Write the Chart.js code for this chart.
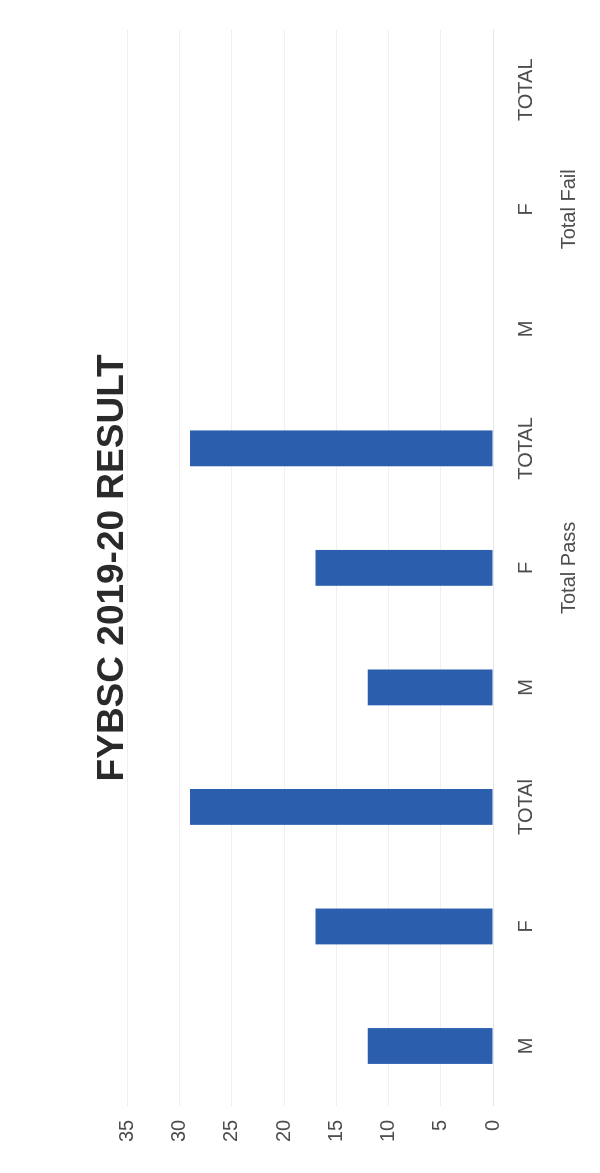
<!DOCTYPE html>
<html>
<head>
<meta charset="utf-8">
<title>FYBSC 2019-20 RESULT</title>
<script src="https://cdn.jsdelivr.net/npm/chart.js@4.4.1/dist/chart.umd.min.js"></script>
<style>
  html, body { margin: 0; padding: 0; background: #fff; overflow: hidden; }
  body { width: 600px; height: 1173px; position: relative; }
  /* the chart is laid out landscape, then turned so it reads bottom-to-top */
  #wrap {
    position: absolute; left: 0; top: 0;
    width: 1173px; height: 600px;
    transform-origin: top left;
    transform: translateY(1173px) rotate(-90deg);
  }
</style>
</head>
<body>
<div id="wrap"><canvas id="myChart"></canvas></div>
<script>
const categories = ["M", "F", "TOTAl", "M", "F", "TOTAL", "M", "F", "TOTAL"];
const groups = ["", "", "", "", "Total Pass", "", "", "Total Fail", ""];
const students = [12, 17, 29, 12, 17, 29, 0, 0, 0];
const yMax = 35;
const yStep = 5;

const ctx = document.getElementById('myChart').getContext('2d');

// two-line labels: category on top, group name under the middle one
const labels = categories.map((c, i) => [c, groups[i]]);

const chart = new Chart(ctx, {
    type: 'bar',
    data: {
        labels: labels,
        datasets: [{
            label: 'Students',
            data: students,
            backgroundColor: '#2b5fae',
            borderWidth: 0,
            barPercentage: 0.3,
            categoryPercentage: 1
        }]
    },
    options: {
        responsive: true,
        maintainAspectRatio: false,
        animation: false,
        layout: {
            padding: { left: 17, right: 30, top: 0, bottom: -3 }
        },
        plugins: {
            legend: { display: false },
            tooltip: { enabled: false },
            title: {
                display: true,
                text: 'FYBSC 2019-20 RESULT',
                fullSize: false,
                color: '#2a2a2a',
                font: { family: "'Liberation Sans', sans-serif", size: 37, weight: 'bold', lineHeight: 1.2 },
                padding: { top: 91, bottom: -8 }
            }
        },
        scales: {
            x: {
                grid: { display: false, drawTicks: false },
                border: { display: true, color: '#e6e6e6' },
                ticks: {
                    color: '#4d4d4d',
                    padding: 12,
                    maxRotation: 0,
                    autoSkip: false,
                    font: { family: "'Liberation Sans', sans-serif", size: 20, lineHeight: 2.15 }
                }
            },
            y: {
                min: 0,
                max: yMax,
                grid: { color: '#f0f0f0', drawTicks: false },
                border: { display: false },
                ticks: {
                    stepSize: yStep,
                    color: '#4d4d4d',
                    padding: 14,
                    font: { family: "'Liberation Sans', sans-serif", size: 20 }
                }
            }
        }
    }
});
</script>
</body>
</html>
